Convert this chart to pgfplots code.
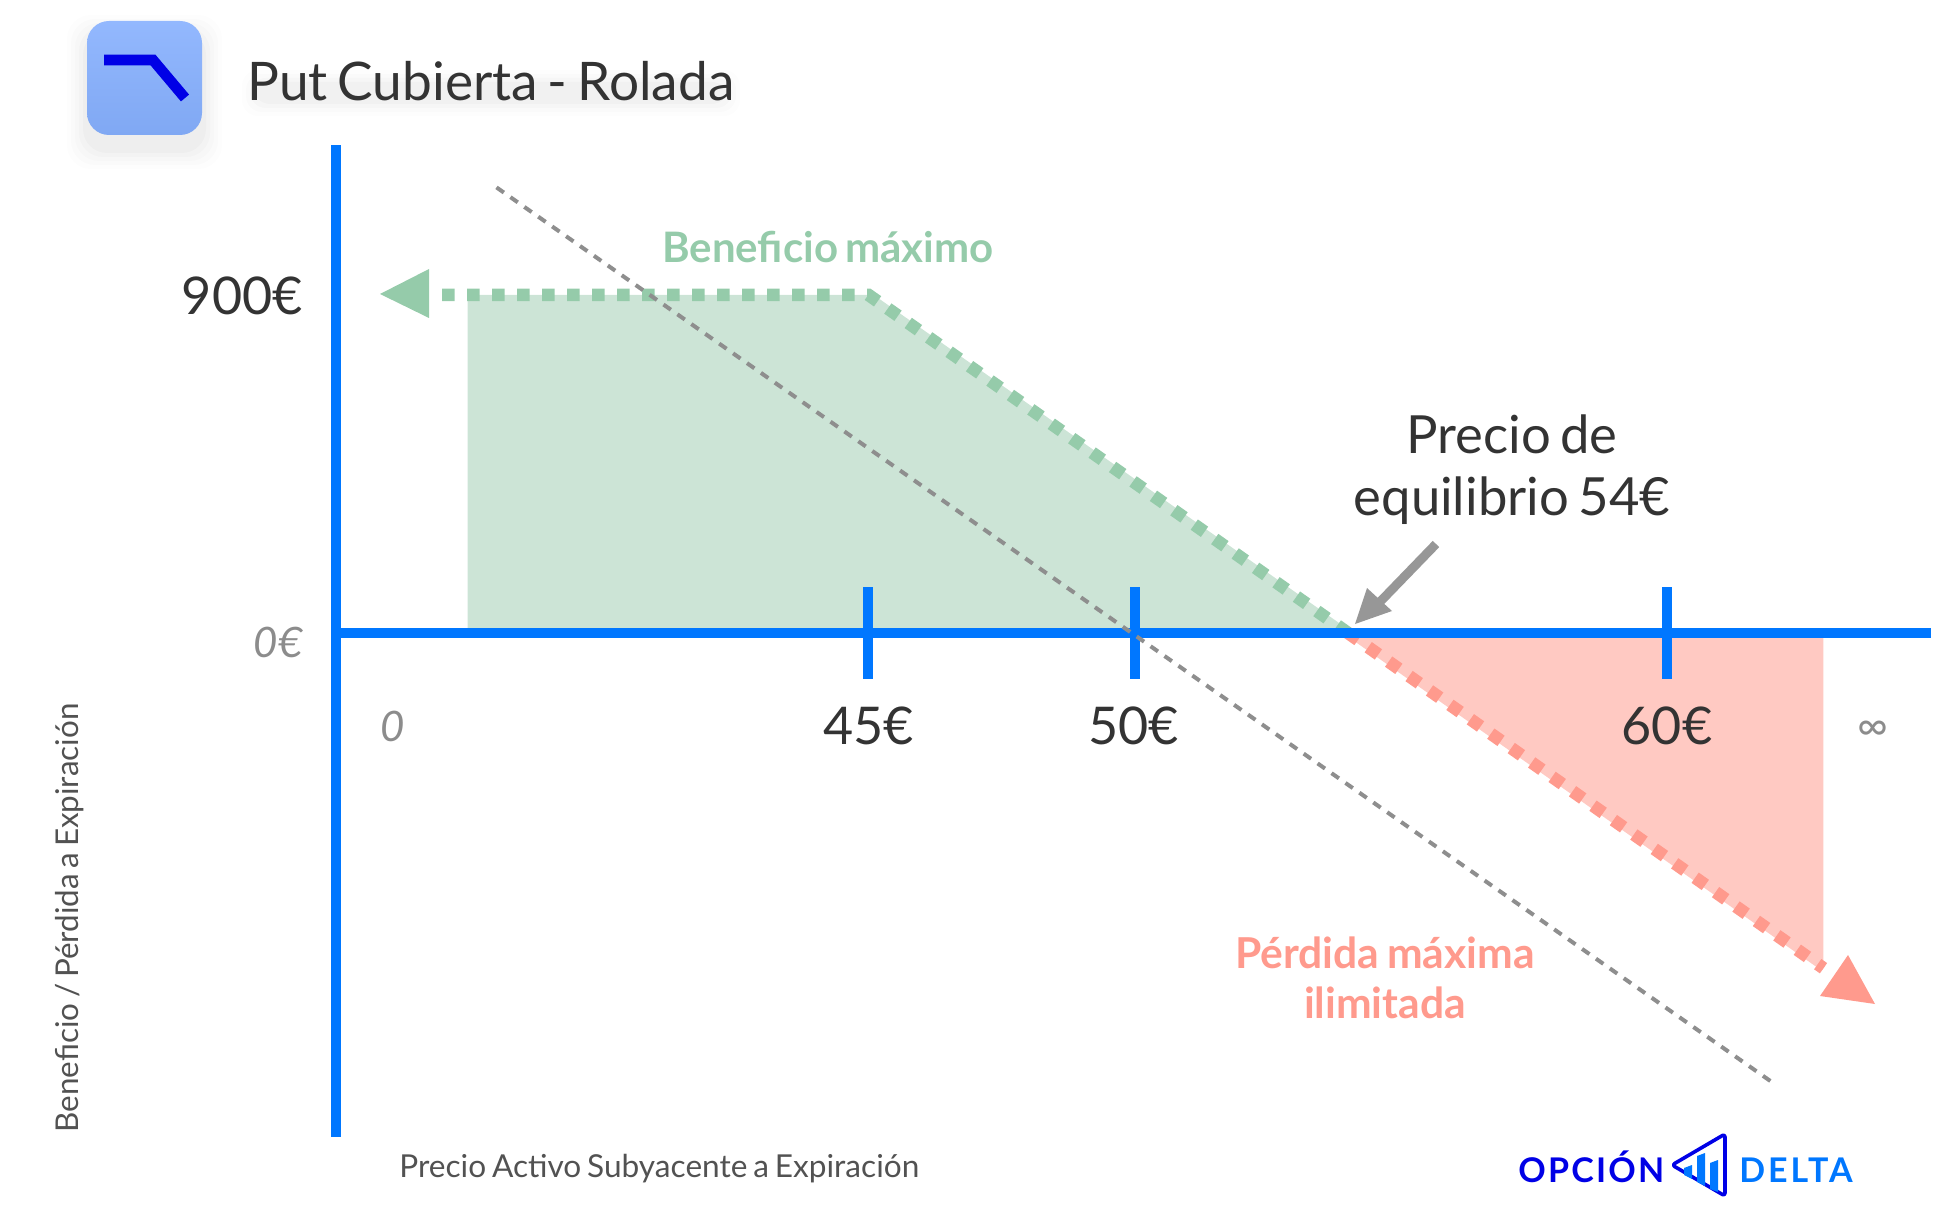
\documentclass[border=0pt]{standalone}
\usepackage{fontspec}
\setmainfont{Lato}[WordSpace=0.72]
\usepackage{pgfplots}
\pgfplotsset{compat=1.18}
\definecolor{axisblue}{HTML}{0077FF}
\definecolor{logoblue}{HTML}{0000E6}
\definecolor{greenfill}{HTML}{CCE4D6}
\definecolor{greenline}{HTML}{95CBAA}
\definecolor{redfill}{HTML}{FFC9C2}
\definecolor{redline}{HTML}{FF9A8D}
\definecolor{greyline}{HTML}{8E8E8E}
\definecolor{ink}{HTML}{333333}
\definecolor{softgrey}{HTML}{8C8C8C}
\definecolor{icontop}{HTML}{93B8FE}
\definecolor{iconmid}{HTML}{85ACF5}
\definecolor{iconbot}{HTML}{80A8F3}
\newcommand{\softbox}[2]{\fill[black,opacity=#2,rounded corners=12pt] (axis cs:87-#1,35-#1) rectangle (axis cs:202+#1,149+#1);}
\newcommand{\titleglow}[2]{\fill[black,opacity=#2,rounded corners=8pt] (axis cs:256-#1,84-#1) rectangle (axis cs:726+#1,102+#1);}
\begin{document}
\begin{tikzpicture}[x=1pt,y=1pt]
\path[use as bounding box] (0,0) rectangle (977.5pt,615pt);
% --- chart in euro units
\begin{axis}[anchor=south west,at={(0,0)},scale only axis,width=977.5pt,height=615pt,
  xmin=28.70,xmax=65.399,ymin=-1590,ymax=1685,hide axis,clip=false]
\addplot[draw=none,fill=greenfill] coordinates {(37.48,0) (37.48,900) (45,900) (54,0)} -- cycle;
\addplot[draw=none,fill=redfill] coordinates {(54,0) (62.93,0) (62.93,-893)} -- cycle;
\addplot[greenfill,line width=3pt] coordinates {(45,900) (54,0)};
\addplot[redfill,line width=3pt] coordinates {(54,0) (62.93,-893)};
\addplot[greenline,line width=6.3pt,dash pattern=on 6.25pt off 6.25pt] coordinates {(37.0,900) (45,900) (54,0)};
\addplot[redline,line width=6.3pt,dash pattern=on 6.25pt off 6.25pt] coordinates {(54,0) (62.93,-893)};
% axes and ticks
\addplot[axisblue,line width=5pt] coordinates {(35,1298) (35,-1343)};
\addplot[axisblue,line width=5pt] coordinates {(35,0) (64.94,0)};
\addplot[axisblue,line width=5pt] coordinates {(45,122) (45,-124)};
\addplot[axisblue,line width=5pt] coordinates {(50,122) (50,-124)};
\addplot[axisblue,line width=5pt] coordinates {(60,122) (60,-124)};
% dashed grey line (stock)
\addplot[greyline,line width=2pt,dash pattern=on 4.5pt off 4pt] coordinates {(38.02,1186) (62.05,-1205)};
\end{axis}
% --- decoration and text, in reference pixels
\begin{axis}[anchor=south west,at={(0,0)},scale only axis,width=977.5pt,height=615pt,
  xmin=0,xmax=1955,ymin=0,ymax=1230,y dir=reverse,hide axis,clip=false]
% arrow heads
\fill[greenline] (axis cs:380,294) -- (axis cs:429,269) -- (axis cs:429,318) -- cycle;
\fill[redline] (axis cs:1848,955) -- (axis cs:1820,996) -- (axis cs:1875,1004) -- cycle;
% break-even arrow
\draw[softgrey!90,line width=4.5pt] (axis cs:1436,544) -- (axis cs:1376,606);
\fill[softgrey!90] (axis cs:1355,624) -- (axis cs:1367,588) -- (axis cs:1392,611) -- cycle;
% icon
\softbox{20}{0.008}\softbox{16}{0.01}\softbox{12}{0.012}\softbox{8}{0.016}\softbox{4}{0.02}
\shade[top color=icontop,middle color=iconmid,bottom color=iconbot,rounded corners=11pt]
  (axis cs:87,21) rectangle (axis cs:202,135);
\draw[logoblue,line width=5.3pt,line join=miter] (axis cs:104,60) -- (axis cs:153,60) -- (axis cs:185,98);
% soft shadow under the title
\titleglow{14}{0.008}\titleglow{10}{0.012}\titleglow{6}{0.015}\titleglow{2}{0.02}
\node[anchor=west,text=ink,font=\fontsize{26.6}{30}\selectfont,inner sep=0pt] at (axis cs:247,81) {Put Cubierta - Rolada};
% value labels
\node[anchor=east,text=ink,font=\fontsize{26}{30}\selectfont,inner sep=0pt] at (axis cs:303,296) {900€};
\node[anchor=east,text=softgrey,font=\itshape\fontsize{21}{25}\selectfont,inner sep=0pt] at (axis cs:303,642) {0€};
\node[text=softgrey,font=\itshape\fontsize{21}{25}\selectfont,inner sep=0pt] at (axis cs:393,726) {0};
\node[text=ink,font=\fontsize{26}{30}\selectfont,inner sep=0pt] at (axis cs:868.5,726) {45€};
\node[text=ink,font=\fontsize{26}{30}\selectfont,inner sep=0pt] at (axis cs:1133.5,726) {50€};
\node[text=ink,font=\fontsize{26}{30}\selectfont,inner sep=0pt] at (axis cs:1667,726) {60€};
\node[text=softgrey,font=\fontsize{21}{25}\selectfont,inner sep=0pt] at (axis cs:1873,731) {∞};
% annotations
\node[text=greenline,font=\bfseries\fontsize{21}{24}\selectfont,inner sep=0pt] at (axis cs:828,247) {Beneficio máximo};
\node[text=ink,font=\fontsize{26.3}{31}\selectfont,align=center,inner sep=0pt] at (axis cs:1512,470) {Precio de\\equilibrio 54€};
\node[text=redline,font=\bfseries\fontsize{21.3}{25}\selectfont,align=center,inner sep=0pt] at (axis cs:1385,978) {Pérdida máxima\\ilimitada};
% axis titles
\node[rotate=90,text=ink!85,font=\fontsize{15.7}{18}\selectfont,inner sep=0pt] at (axis cs:70,918) {Beneficio / Pérdida a Expiración};
\node[anchor=west,text=ink!85,font=\fontsize{15.8}{18}\selectfont,inner sep=0pt] at (axis cs:399,1168.5) {Precio Activo Subyacente a Expiración};
% logo
\node[anchor=base west,text=logoblue,font=\bfseries\fontsize{17}{20}\selectfont\addfontfeature{LetterSpace=6.5},inner sep=0pt] at (axis cs:1518,1182) {OPCIÓN};
\node[anchor=base west,text=axisblue,font=\bfseries\fontsize{17}{20}\selectfont\addfontfeature{LetterSpace=8.5},inner sep=0pt] at (axis cs:1739,1182) {DELTA};
\draw[logoblue,line width=1.8pt,line join=round,rounded corners=1.5pt] (axis cs:1672,1165) -- (axis cs:1725,1134) -- (axis cs:1725,1196) -- cycle;
\fill[axisblue] (axis cs:1684,1168) -- (axis cs:1692,1165) -- (axis cs:1692,1179) -- (axis cs:1684,1175) -- cycle;
\fill[axisblue] (axis cs:1697,1156) -- (axis cs:1705,1153) -- (axis cs:1705,1186) -- (axis cs:1697,1182) -- cycle;
\fill[axisblue] (axis cs:1710,1163) -- (axis cs:1718,1160) -- (axis cs:1718,1192) -- (axis cs:1710,1189) -- cycle;
\end{axis}
\end{tikzpicture}
\end{document}
